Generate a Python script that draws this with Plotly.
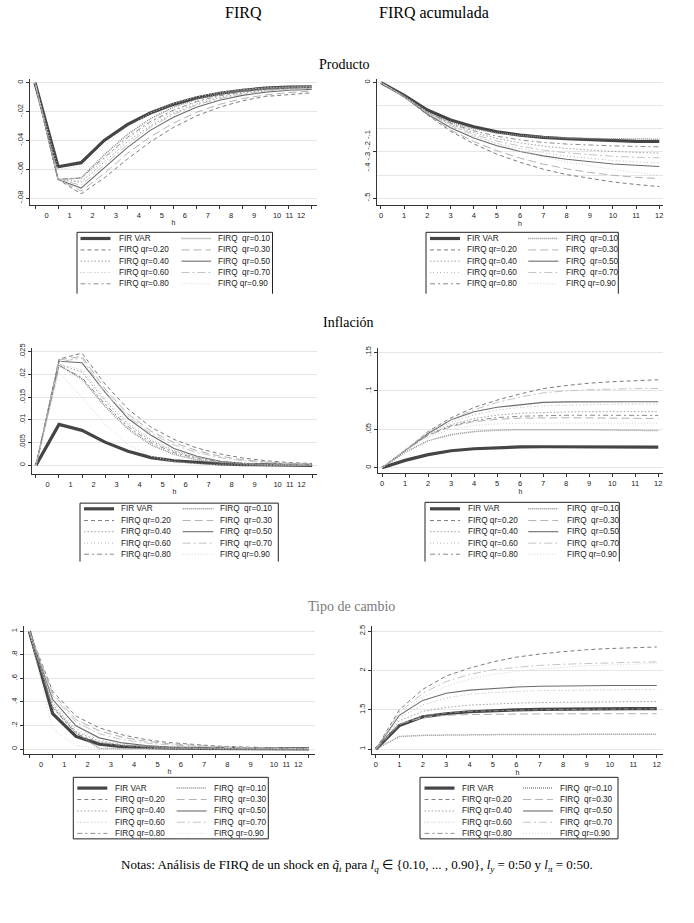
import plotly.graph_objects as go

# ---------------- data ----------------
h = list(range(13))

labels = ["FIR VAR", "FIRQ qr=0.10", "FIRQ qr=0.20", "FIRQ qr=0.30", "FIRQ qr=0.40",
          "FIRQ qr=0.50", "FIRQ qr=0.60", "FIRQ qr=0.70", "FIRQ qr=0.80", "FIRQ qr=0.90"]

# Producto - FIRQ
prod_fir  = [0, -0.0582, -0.0554, -0.0400, -0.0290, -0.0210, -0.0150, -0.0105, -0.0074, -0.0052, -0.0038, -0.0030, -0.0028]
prod_q10  = [0, -0.0670, -0.0660, -0.0500, -0.0360, -0.0250, -0.0170, -0.0115, -0.0078, -0.0054, -0.0040, -0.0031, -0.0028]
prod_q20  = [0, -0.0670, -0.0770, -0.0660, -0.0530, -0.0410, -0.0310, -0.0230, -0.0170, -0.0125, -0.0095, -0.0080, -0.0070]
prod_q30  = [0, -0.0670, -0.0750, -0.0630, -0.0490, -0.0375, -0.0280, -0.0205, -0.0150, -0.0110, -0.0085, -0.0068, -0.0058]
prod_q40  = [0, -0.0670, -0.0690, -0.0550, -0.0410, -0.0300, -0.0210, -0.0148, -0.0103, -0.0072, -0.0053, -0.0042, -0.0036]
prod_q50  = [0, -0.0670, -0.0730, -0.0590, -0.0450, -0.0330, -0.0240, -0.0170, -0.0122, -0.0088, -0.0065, -0.0052, -0.0046]
prod_q60  = [0, -0.0670, -0.0680, -0.0530, -0.0390, -0.0280, -0.0195, -0.0135, -0.0094, -0.0066, -0.0049, -0.0039, -0.0034]
prod_q70  = [0, -0.0670, -0.0710, -0.0570, -0.0430, -0.0310, -0.0220, -0.0155, -0.0110, -0.0078, -0.0058, -0.0046, -0.0040]
prod_q80  = [0, -0.0670, -0.0660, -0.0520, -0.0380, -0.0270, -0.0190, -0.0130, -0.0090, -0.0063, -0.0046, -0.0036, -0.0032]
prod_q90  = [0, -0.0600, -0.0580, -0.0440, -0.0310, -0.0210, -0.0145, -0.0098, -0.0068, -0.0048, -0.0035, -0.0028, -0.0025]

# Producto - FIRQ acumulada
prodc_fir = [0, -0.055, -0.119, -0.162, -0.191, -0.213, -0.227, -0.237, -0.243, -0.247, -0.251, -0.254, -0.255]
prodc_q10 = [0, -0.060, -0.128, -0.172, -0.200, -0.218, -0.229, -0.236, -0.240, -0.242, -0.244, -0.245, -0.245]
prodc_q20 = [0, -0.062, -0.140, -0.210, -0.265, -0.310, -0.345, -0.375, -0.398, -0.415, -0.430, -0.441, -0.450]
prodc_q30 = [0, -0.062, -0.138, -0.205, -0.255, -0.295, -0.327, -0.353, -0.373, -0.389, -0.401, -0.410, -0.415]
prodc_q40 = [0, -0.061, -0.130, -0.180, -0.216, -0.242, -0.261, -0.275, -0.285, -0.293, -0.298, -0.302, -0.305]
prodc_q50 = [0, -0.062, -0.136, -0.195, -0.240, -0.273, -0.298, -0.317, -0.332, -0.343, -0.352, -0.358, -0.363]
prodc_q60 = [0, -0.062, -0.134, -0.190, -0.232, -0.263, -0.286, -0.304, -0.318, -0.329, -0.337, -0.343, -0.348]
prodc_q70 = [0, -0.061, -0.132, -0.185, -0.224, -0.253, -0.275, -0.292, -0.304, -0.313, -0.319, -0.323, -0.325]
prodc_q80 = [0, -0.061, -0.129, -0.176, -0.209, -0.232, -0.248, -0.259, -0.266, -0.271, -0.274, -0.276, -0.278]
prodc_q90 = [0, -0.058, -0.126, -0.182, -0.228, -0.265, -0.296, -0.322, -0.343, -0.361, -0.376, -0.389, -0.400]

# Inflacion - FIRQ
inf_fir = [0, 0.0090, 0.0077, 0.0051, 0.0031, 0.0017, 0.0010, 0.0006, 0.0003, 0.00015, 0.0001, 0.00005, 0.0]
inf_q10 = [0, 0.0220, 0.0190, 0.0130, 0.0080, 0.0045, 0.0024, 0.0012, 0.0006, 0.0003, 0.0001, 0.0, 0.0]
inf_q20 = [0, 0.0234, 0.0247, 0.0179, 0.0124, 0.0084, 0.0057, 0.0038, 0.0025, 0.0016, 0.0010, 0.0006, 0.0004]
inf_q30 = [0, 0.0232, 0.0240, 0.0168, 0.0113, 0.0075, 0.0050, 0.0032, 0.0020, 0.0012, 0.0007, 0.0004, 0.0002]
inf_q40 = [0, 0.0222, 0.0205, 0.0142, 0.0090, 0.0054, 0.0031, 0.0017, 0.0009, 0.0005, 0.0002, 0.0001, 0.0]
inf_q50 = [0, 0.0229, 0.0226, 0.0161, 0.0103, 0.0066, 0.0037, 0.0020, 0.0009, 0.0004, 0.0002, 0.0001, 0.0]
inf_q60 = [0, 0.0223, 0.0210, 0.0146, 0.0094, 0.0057, 0.0033, 0.0018, 0.0009, 0.0004, 0.0002, 0.0001, 0.0]
inf_q70 = [0, 0.0228, 0.0236, 0.0160, 0.0108, 0.0070, 0.0045, 0.0028, 0.0017, 0.0010, 0.0006, 0.0003, 0.0002]
inf_q80 = [0, 0.0220, 0.0193, 0.0135, 0.0085, 0.0050, 0.0028, 0.0015, 0.0008, 0.0004, 0.0002, 0.0001, 0.0]
inf_q90 = [0, 0.0205, 0.0150, 0.0090, 0.0046, 0.0020, 0.0008, 0.0003, 0.0001, 0.0, 0.0, 0.0, 0.0]

# Inflacion - FIRQ acumulada
infc_fir = [0, 0.0095, 0.0170, 0.0220, 0.0246, 0.0260, 0.0270, 0.0272, 0.0272, 0.0270, 0.0269, 0.0268, 0.0267]
infc_q10 = [0, 0.0200, 0.0350, 0.0430, 0.0470, 0.0488, 0.0495, 0.0497, 0.0496, 0.0494, 0.0490, 0.0487, 0.0483]
infc_q20 = [0, 0.0225, 0.0470, 0.0650, 0.0785, 0.0880, 0.0960, 0.1030, 0.1070, 0.1100, 0.1120, 0.1135, 0.1145]
infc_q30 = [0, 0.0225, 0.0420, 0.0535, 0.0600, 0.0630, 0.0645, 0.0650, 0.0650, 0.0648, 0.0645, 0.0642, 0.0640]
infc_q40 = [0, 0.0225, 0.0430, 0.0560, 0.0640, 0.0685, 0.0708, 0.0720, 0.0726, 0.0729, 0.0730, 0.0730, 0.0730]
infc_q50 = [0, 0.0225, 0.0445, 0.0625, 0.0728, 0.0787, 0.0820, 0.0850, 0.0857, 0.0860, 0.0860, 0.0859, 0.0858]
infc_q60 = [0, 0.0225, 0.0440, 0.0590, 0.0690, 0.0750, 0.0785, 0.0805, 0.0815, 0.0822, 0.0826, 0.0828, 0.0830]
infc_q70 = [0, 0.0225, 0.0460, 0.0630, 0.0755, 0.0850, 0.0920, 0.0975, 0.1000, 0.1015, 0.1025, 0.1030, 0.1032]
infc_q80 = [0, 0.0225, 0.0425, 0.0545, 0.0615, 0.0652, 0.0670, 0.0678, 0.0682, 0.0683, 0.0683, 0.0682, 0.0680]
infc_q90 = [0, 0.0220, 0.0400, 0.0500, 0.0550, 0.0570, 0.0578, 0.0580, 0.0580, 0.0580, 0.0580, 0.0580, 0.0580]

# Tipo de cambio - FIRQ
tc_fir = [1.0, 0.30, 0.107, 0.042, 0.020, 0.012, 0.007, 0.005, 0.004, 0.003, 0.002, 0.002, 0.002]
tc_q10 = [1.0, 0.36, 0.140, 0.005, 0.003, 0.002, 0.002, 0.001, 0.001, 0.001, 0.0, 0.0, 0.0]
tc_q20 = [1.0, 0.49, 0.280, 0.180, 0.120, 0.080, 0.055, 0.038, 0.026, 0.018, 0.012, 0.008, 0.005]
tc_q30 = [1.0, 0.47, 0.250, 0.155, 0.100, 0.066, 0.045, 0.031, 0.021, 0.014, 0.009, 0.006, 0.004]
tc_q40 = [1.0, 0.38, 0.150, 0.065, 0.035, 0.020, 0.012, 0.008, 0.005, 0.003, 0.002, 0.001, 0.001]
tc_q50 = [1.0, 0.42, 0.197, 0.095, 0.052, 0.030, 0.018, 0.011, 0.007, 0.004, 0.003, 0.002, 0.001]
tc_q60 = [1.0, 0.40, 0.170, 0.075, 0.040, 0.023, 0.014, 0.009, 0.006, 0.004, 0.002, 0.001, 0.001]
tc_q70 = [1.0, 0.45, 0.230, 0.130, 0.080, 0.052, 0.035, 0.024, 0.016, 0.011, 0.007, 0.005, 0.003]
tc_q80 = [1.0, 0.35, 0.130, 0.055, 0.028, 0.016, 0.010, 0.006, 0.004, 0.003, 0.002, 0.001, 0.001]
tc_q90 = [1.0, 0.17, 0.030, 0.005, 0.002, 0.001, 0.0, 0.0, 0.0, 0.0, 0.0, 0.0, 0.0]

# Tipo de cambio - FIRQ acumulada
tcc_fir = [1.0, 1.30, 1.41, 1.45, 1.475, 1.49, 1.50, 1.505, 1.51, 1.512, 1.514, 1.515, 1.515]
tcc_q10 = [1.0, 1.16, 1.175, 1.18, 1.182, 1.184, 1.185, 1.186, 1.187, 1.188, 1.189, 1.19, 1.19]
tcc_q20 = [1.0, 1.50, 1.76, 1.93, 2.03, 2.11, 2.17, 2.21, 2.24, 2.265, 2.28, 2.29, 2.30]
tcc_q30 = [1.0, 1.32, 1.40, 1.43, 1.44, 1.445, 1.447, 1.448, 1.449, 1.45, 1.45, 1.45, 1.45]
tcc_q40 = [1.0, 1.36, 1.48, 1.53, 1.56, 1.575, 1.585, 1.592, 1.597, 1.60, 1.602, 1.604, 1.605]
tcc_q50 = [1.0, 1.43, 1.62, 1.71, 1.75, 1.77, 1.79, 1.80, 1.805, 1.81, 1.81, 1.81, 1.81]
tcc_q60 = [1.0, 1.40, 1.56, 1.65, 1.70, 1.72, 1.735, 1.745, 1.75, 1.753, 1.755, 1.756, 1.757]
tcc_q70 = [1.0, 1.47, 1.71, 1.86, 1.95, 2.01, 2.04, 2.065, 2.08, 2.09, 2.10, 2.105, 2.11]
tcc_q80 = [1.0, 1.31, 1.42, 1.46, 1.48, 1.49, 1.495, 1.50, 1.505, 1.508, 1.51, 1.512, 1.513]
tcc_q90 = [1.0, 1.45, 1.66, 1.80, 1.89, 1.95, 1.99, 2.02, 2.04, 2.06, 2.07, 2.08, 2.09]

left_tick_pos = [0.5, 1.5, 2.5, 3.5, 4.5, 5.5, 6.5, 7.5, 8.5, 9.5, 10.5, 11.03, 11.54]
left_tick_text = ["0", "1", "2", "3", "4", "5", "6", "7", "8", "9", "10", "11", "12"]
right_tick_text = ["0", "1", "2", "3", "4", "5", "6", "7", "8", "9", "10", "11", "12"]

ytick_prod = [0, -0.02, -0.04, -0.06, -0.08]
ytext_prod = ["0", "-.02", "-.04", "-.06", "-.08"]
ytick_prodc = [0, -0.3, -0.5]
ytext_prodc = ["0", "-.4 -.3 -.2 -.1", "-.5"]
ygrid_prodc_extra = [-0.1, -0.2, -0.4]
ytick_inf = [0, 0.005, 0.01, 0.015, 0.02, 0.025]
ytext_inf = ["0", ".005", ".01", ".015", ".02", ".025"]
ytick_infc = [0, 0.05, 0.1, 0.15]
ytext_infc = ["0", ".05", ".1", ".15"]
ytick_tc = [0, 0.2, 0.4, 0.6, 0.8, 1]
ytext_tc = ["0", ".2", ".4", ".6", ".8", "1"]
ytick_tcc = [1, 1.5, 2, 2.5]
ytext_tcc = ["1", "1.5", "2", "2.5"]

# ---------------- styling ----------------
W, H = 694, 923
SANS = "Liberation Sans, Arial, sans-serif"
SERIF = "Liberation Serif, Times New Roman, serif"

styles = [
    dict(color="#454545", width=3.2, dash="solid"),            # FIR VAR
    dict(color="#8c8c8c", width=1.5, dash="1px,1px"),          # 0.10
    dict(color="#7c7c7c", width=1.0, dash="4px,3px"),          # 0.20
    dict(color="#b2b2b2", width=1.0, dash="8px,4px"),          # 0.30
    dict(color="#a0a0a0", width=1.0, dash="1.5px,2px"),        # 0.40
    dict(color="#6c6c6c", width=1.1, dash="solid"),            # 0.50
    dict(color="#b6b6b6", width=1.0, dash="1px,2px,1px,3px"),  # 0.60
    dict(color="#c4c4c4", width=1.0, dash="8px,3px,2px,3px"),  # 0.70
    dict(color="#8c8c8c", width=1.0, dash="5px,3px,2px,3px"),  # 0.80
    dict(color="#d2d2d2", width=1.0, dash="1px,2px"),          # 0.90
]


def px(x):
    return x / W


def py(y):
    return 1 - y / H


panels = [
    dict(series=[prod_fir, prod_q10, prod_q20, prod_q30, prod_q40, prod_q50, prod_q60, prod_q70, prod_q80, prod_q90],
         dom_x=(30, 317), dom_y=(75, 201.7), xr=(-0.217, 12.23), yr=(-0.0846, 0.0028),
         yt=ytick_prod, ytt=ytext_prod, left=True),
    dict(series=[prodc_fir, prodc_q10, prodc_q20, prodc_q30, prodc_q40, prodc_q50, prodc_q60, prodc_q70, prodc_q80, prodc_q90],
         dom_x=(376.7, 663), dom_y=(75, 201.7), xr=(-0.185, 12.16), yr=(-0.529, 0.017),
         yt=ytick_prodc, ytt=ytext_prodc, left=False, extra=ygrid_prodc_extra),
    dict(series=[inf_fir, inf_q10, inf_q20, inf_q30, inf_q40, inf_q50, inf_q60, inf_q70, inf_q80, inf_q90],
         dom_x=(32.3, 316.7), dom_y=(345, 471.7), xr=(-0.16, 12.2), yr=(-0.00184, 0.02594),
         yt=ytick_inf, ytt=ytext_inf, left=True),
    dict(series=[infc_fir, infc_q10, infc_q20, infc_q30, infc_q40, infc_q50, infc_q60, infc_q70, infc_q80, infc_q90],
         dom_x=(377.7, 663.3), dom_y=(345, 471), xr=(-0.19, 12.22), yr=(-0.0069, 0.1565),
         yt=ytick_infc, ytt=ytext_infc, left=False),
    dict(series=[tc_fir, tc_q10, tc_q20, tc_q30, tc_q40, tc_q50, tc_q60, tc_q70, tc_q80, tc_q90],
         dom_x=(24, 315), dom_y=(625, 753.3), xr=(-0.23, 12.26), yr=(-0.0423, 1.042),
         yt=ytick_tc, ytt=ytext_tc, left=True),
    dict(series=[tcc_fir, tcc_q10, tcc_q20, tcc_q30, tcc_q40, tcc_q50, tcc_q60, tcc_q70, tcc_q80, tcc_q90],
         dom_x=(371.7, 663.3), dom_y=(625, 753.3), xr=(-0.18, 12.28), yr=(0.937, 2.563),
         yt=ytick_tcc, ytt=ytext_tcc, left=False),
]

fig = go.Figure()
layout = dict(width=W, height=H, margin=dict(l=0, r=0, t=0, b=0),
              paper_bgcolor="white", plot_bgcolor="white", showlegend=False)

AXCOL = "#333333"
GRID = "#e6e6e6"

for i, p in enumerate(panels):
    n = i + 1
    xa = "x" if n == 1 else f"x{n}"
    ya = "y" if n == 1 else f"y{n}"
    xkey = "xaxis" if n == 1 else f"xaxis{n}"
    ykey = "yaxis" if n == 1 else f"yaxis{n}"
    for s, vals in enumerate(p["series"]):
        fig.add_trace(go.Scatter(x=h, y=vals, mode="lines", name=labels[s],
                                 line=styles[s], xaxis=xa, yaxis=ya,
                                 hoverinfo="skip"))
    xdict = dict(domain=[px(p["dom_x"][0]), px(p["dom_x"][1])], anchor=ya,
                 range=list(p["xr"]), showgrid=False, zeroline=False,
                 showline=True, linecolor=AXCOL, linewidth=1,
                 tickfont=dict(family=SANS, size=7.5, color="#222"),
                 title=dict(text="h", font=dict(family=SANS, size=7, color="#222"), standoff=1))
    if p["left"]:
        xdict.update(tickmode="array", tickvals=left_tick_pos, ticktext=left_tick_text,
                     ticks="outside", ticklen=3, tickcolor="rgba(0,0,0,0)",
                     minor=dict(tickmode="array", tickvals=h, ticks="outside", ticklen=3,
                                tickcolor=AXCOL, tickwidth=1, showgrid=False))
    else:
        xdict.update(tickmode="array", tickvals=h, ticktext=right_tick_text,
                     ticks="outside", ticklen=3, tickcolor=AXCOL, tickwidth=1)
    ydict = dict(domain=[py(p["dom_y"][1]), py(p["dom_y"][0])], anchor=xa,
                 range=list(p["yr"]), tickmode="array", tickvals=p["yt"], ticktext=p["ytt"],
                 tickangle=-90, ticks="outside", ticklen=3, tickcolor=AXCOL,
                 showgrid=True, gridcolor=GRID, gridwidth=1, zeroline=False,
                 showline=True, linecolor=AXCOL, linewidth=1,
                 tickfont=dict(family=SANS, size=7.5, color="#222"))
    if "extra" in p:
        ydict["minor"] = dict(tickmode="array", tickvals=p["extra"], showgrid=True,
                              gridcolor=GRID, gridwidth=1, ticks="")
    layout[xkey] = xdict
    layout[ykey] = ydict

# ---------------- titles & note ----------------
annotations = []


def text(x, y, s, size, color="black", family=SERIF):
    annotations.append(dict(x=px(x), y=py(y), xref="paper", yref="paper", text=s,
                            showarrow=False, xanchor="center", yanchor="middle",
                            font=dict(family=family, size=size, color=color)))


text(243, 9, "FIRQ", 16)
text(434, 9, "FIRQ acumulada", 16)
text(344, 61, "Producto", 14)
text(348, 320, "Inflación", 14)
text(351, 605, "Tipo de cambio", 14, color="#7a7a7a")
text(357, 865, "Notas: Análisis de FIRQ de un shock en <i>q̃<sub>t</sub></i> para <i>l<sub>q</sub></i> ∈ {0.10, ... , 0.90}, "
               "<i>l<sub>y</sub></i> = 0:50 y <i>l<sub>π</sub></i> = 0:50.", 13)

# ---------------- legends (two columns, drawn as boxes) ----------------
shapes = []
legend_order = [[0, 2, 4, 6, 8], [1, 3, 5, 7, 9]]
legend_boxes = [
    dict(l=77, r=272.5, t=229.3, b=291, bl=False, rows=[235.5, 247, 258.3, 269.7, 281],
         c1=(80.5, 110.5, 116.5), c2=(181.5, 211, 216.5)),
    dict(l=426, r=618.3, t=229.3, b=291, bl=False, rows=[235.5, 247, 258.3, 269.7, 281],
         c1=(430, 460, 465), c2=(528.3, 558.3, 564)),
    dict(l=80, r=278.3, t=501.3, b=560, bl=False, rows=[507, 518.8, 530, 541.5, 552.6],
         c1=(84, 114, 119.3), c2=(182.7, 213.3, 218.3)),
    dict(l=425, r=619.3, t=500.5, b=560, bl=False, rows=[507, 518.8, 530, 541.5, 552.6],
         c1=(430, 460, 466), c2=(528.3, 558.3, 565)),
    dict(l=73.3, r=268.3, t=776.7, b=838.5, bl=True, rows=[787.5, 799, 810.5, 821.8, 833],
         c1=(77.3, 107.3, 113.3), c2=(176.7, 206.7, 212.3)),
    dict(l=420, r=618, t=776.7, b=838.5, bl=True, rows=[787.5, 799, 810.5, 821.8, 833],
         c1=(424.5, 454.5, 460), c2=(523, 553, 558)),
]
display_labels = ["FIR VAR", "FIRQ\u00a0 qr=0.10", "FIRQ qr=0.20", "FIRQ\u00a0 qr=0.30", "FIRQ qr=0.40",
                  "FIRQ\u00a0 qr=0.50", "FIRQ qr=0.60", "FIRQ\u00a0 qr=0.70", "FIRQ qr=0.80", "FIRQ\u00a0qr=0.90"]

BOX = "#222222"
for lb in legend_boxes:
    L, R, T, B = lb["l"], lb["r"], lb["t"], lb["b"]
    edges = [(L, T, R, T), (L, T, L, B), (R, T, R, B)]
    if lb["bl"]:
        edges.append((L, B, R, B))
    for (x0, y0, x1, y1) in edges:
        shapes.append(dict(type="line", xref="paper", yref="paper",
                           x0=px(x0), y0=py(y0), x1=px(x1), y1=py(y1),
                           line=dict(color=BOX, width=1)))
    for col, cinfo in zip(legend_order, [lb["c1"], lb["c2"]]):
        for r, s in enumerate(col):
            yy = lb["rows"][r]
            st = styles[s]
            shapes.append(dict(type="line", xref="paper", yref="paper",
                               x0=px(cinfo[0]), x1=px(cinfo[1]), y0=py(yy), y1=py(yy),
                               line=dict(color=st["color"], width=st["width"], dash=st["dash"])))
            annotations.append(dict(x=px(cinfo[2]), y=py(yy), xref="paper", yref="paper",
                                    text=display_labels[s], showarrow=False,
                                    xanchor="left", yanchor="middle",
                                    font=dict(family=SANS, size=8.2, color="#222")))

layout["annotations"] = annotations
layout["shapes"] = shapes
fig.update_layout(**layout)
fig.write_html("out.html", config={"displayModeBar": False},
               post_script="document.body.style.margin='0px';document.body.style.overflow='hidden';")
